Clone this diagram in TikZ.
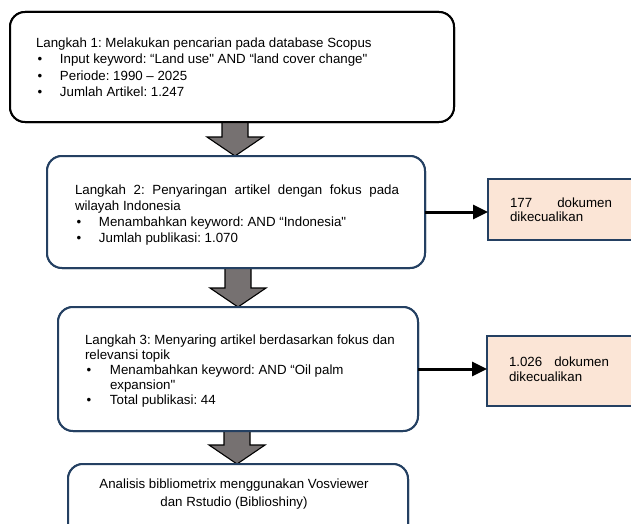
\documentclass[tikz,border=0pt]{standalone}
\usepackage{fontspec}
\setmainfont{Liberation Sans}[Ligatures=TeXOff]
\usetikzlibrary{arrows.meta,calc}
\definecolor{dblue}{RGB}{36,64,98}
\definecolor{peach}{RGB}{251,229,214}
\definecolor{agray}{RGB}{118,113,113}
\frenchspacing
\newcommand\bl[2][24pt]{\makebox[#1][l]{\hspace{1.5pt}•}#2}
\newcommand\blockarr[3]{\draw[blockarrow] let \p1=(#1.south), \p2=(#2.north) in
  (#3pt-13pt,\y1) -- (#3pt+13pt,\y1) -- (#3pt+13pt,\y2+19pt) -- (#3pt+28pt,\y2+19pt)
  -- (#3pt,\y2) -- (#3pt-28pt,\y2+19pt) -- (#3pt-13pt,\y2+19pt) -- cycle;}
\begin{document}
\begin{tikzpicture}[x=1pt,y=-1pt,
  boxA/.style={draw=black, line width=2pt, fill=white, rounded corners=15pt, inner sep=0pt, outer sep=0pt, anchor=north west},
  boxB/.style={draw=dblue, line width=2pt, fill=white, rounded corners=15pt, inner sep=0pt, outer sep=0pt, anchor=north west},
  sidebox/.style={draw=dblue, line width=2pt, fill=peach, inner sep=0pt, outer sep=0pt, anchor=north west},
  txt/.style={inner sep=0pt, outer sep=0pt, anchor=base west, font=\fontsize{13.3}{16}\selectfont\frenchspacing},
  blockarrow/.style={draw=black, line width=1.1pt, fill=agray, line join=miter},
  sidearrow/.style={draw=black, line width=3pt, -{Triangle[length=15pt,width=14pt]}}]
\clip (0,0) rectangle (631,524);
\fill[white] (0,0) rectangle (631,524);
% boxes (named first for the arrows)
\path (10,12) node[boxA, minimum width=444pt, minimum height=110pt] (b1) {};
\path (47,156) node[boxB, minimum width=378pt, minimum height=112pt] (b2) {};
\path (58,307) node[boxB, minimum width=360pt, minimum height=124pt] (b3) {};
\path (68,464) node[boxB, minimum width=340pt, minimum height=96pt] (b4) {};
\path (488,179) node[sidebox, minimum width=152pt, minimum height=61pt] (s1) {};
\path (487,336) node[sidebox, minimum width=153pt, minimum height=70pt] (s2) {};
% block arrows
\blockarr{b1}{b2}{235}
\blockarr{b2}{b3}{238}
\blockarr{b3}{b4}{237}
% redraw boxes on top
\path (10,12) node[boxA, minimum width=444pt, minimum height=110pt] (b1r) {};
\path (47,156) node[boxB, minimum width=378pt, minimum height=112pt] (b2r) {};
\path (58,307) node[boxB, minimum width=360pt, minimum height=124pt] (b3r) {};
\path (68,464) node[boxB, minimum width=340pt, minimum height=96pt] (b4r) {};
% side arrows
\draw[sidearrow] (b2.east) -- (b2.east -| s1.west);
\draw[sidearrow] (b3.east) -- (b3.east -| s2.west);
% texts
\node[txt] (t1) at (36,47.5) {\parbox[t]{410pt}{\baselineskip=16.5pt
  Langkah 1: Melakukan pencarian pada database Scopus\\
  \bl{Input keyword: “Land use" AND “land cover change"}\\
  \bl{Periode: 1990 – 2025}\\
  \bl{Jumlah Artikel: 1.247}}};
\node[txt] (t2) at (75,194.5) {\parbox[t]{330pt}{\baselineskip=16pt
  \makebox[324pt][s]{Langkah 2: Penyaringan artikel dengan fokus pada}\\
  wilayah Indonesia\\
  \bl{Menambahkan keyword: AND “Indonesia"}\\
  \bl{Jumlah publikasi: 1.070}}};
\node[txt] (t3) at (85,344.5) {\parbox[t]{325pt}{\baselineskip=15pt
  Langkah 3: Menyaring artikel berdasarkan fokus dan\\
  relevansi topik\\
  \bl[25pt]{Menambahkan keyword: AND “Oil palm}\\
  \hspace*{25pt}expansion"\\
  \bl[25pt]{Total publikasi: 44}}};
\node[txt, anchor=base] (t4) at (234,488) {\parbox[t]{330pt}{\centering\baselineskip=18pt
  Analisis bibliometrix menggunakan Vosviewer\\
  dan Rstudio (Biblioshiny)}};
\node[txt] (u1) at (510,207.5) {\parbox[t]{110pt}{\baselineskip=14pt
  \makebox[102pt][s]{177 dokumen}\\
  dikecualikan}};
\node[txt] (u2) at (509,366.5) {\parbox[t]{110pt}{\baselineskip=15pt
  \makebox[100pt][s]{1.026 dokumen}\\
  dikecualikan}};
\end{tikzpicture}
\end{document}
